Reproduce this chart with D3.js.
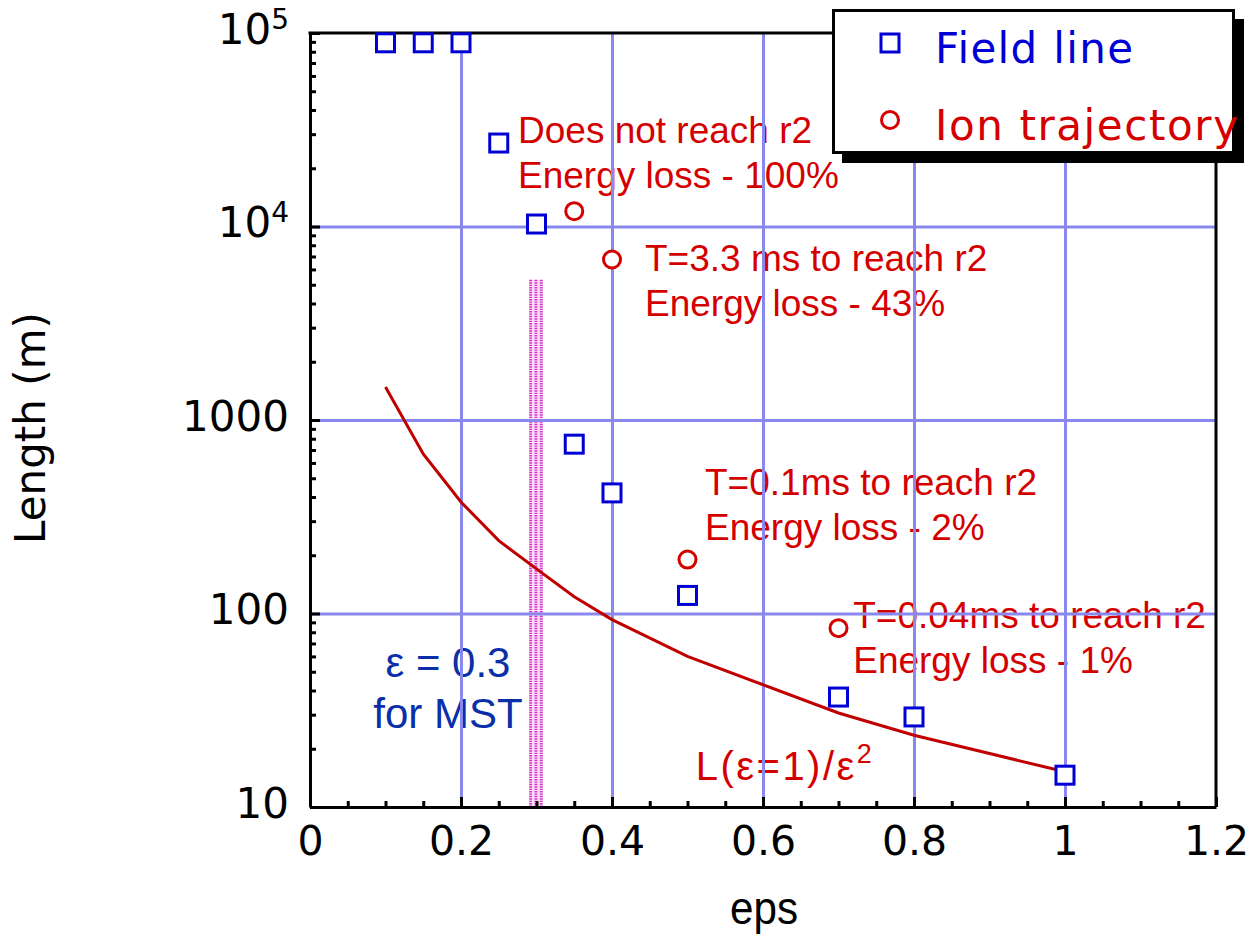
<!DOCTYPE html>
<html><head><meta charset="utf-8">
<script src="https://cdn.jsdelivr.net/npm/d3@7"></script>
<style>body{margin:0;background:#fff} svg{display:block}</style>
</head><body><svg id="c" width="1249" height="939"></svg>
<script>
// ---- data ----
const xTicks = [0, 0.2, 0.4, 0.6, 0.8, 1, 1.2];
const xTickLabels = ["0", "0.2", "0.4", "0.6", "0.8", "1", "1.2"];
const yTicks = [10, 100, 1000, 10000, 100000];
const yTickBase = ["10", "100", "1000", "10", "10"];
const yTickSup = ["", "", "", "4", "5"];
const xMinor = [0.05,0.1,0.15,0.25,0.3,0.35,0.45,0.5,0.55,0.65,0.7,0.75,0.85,0.9,0.95,1.05,1.1,1.15];
const yMinor = [20,30,40,50,60,70,80,90,200,300,400,500,600,700,800,900,2000,3000,4000,5000,6000,7000,8000,9000,20000,30000,40000,50000,60000,70000,80000,90000];

const fieldEps = [0.1, 0.15, 0.2, 0.25, 0.3, 0.35, 0.4, 0.5, 0.7, 0.8, 1.0];
const fieldLen = [89000, 89000, 89000, 27000, 10300, 750, 420, 124, 37, 29.2, 14.6];
const ionEps = [0.35, 0.4, 0.5, 0.7];
const ionLen = [12000, 6750, 190, 84];
const curveEps = [0.1, 0.15, 0.2, 0.25, 0.3, 0.35, 0.4, 0.5, 0.7, 0.8, 1.0];
const curveLen = [1480, 667, 377, 238, 170, 122, 93, 60, 30.6, 23.5, 15.2];
const bandEps = [0.29, 0.3085];
const bandTop = 5300;

const legendLabels = ["Field line", "Ion trajectory"];
const noteLines = [
  ["Does not reach r2", "Energy loss - 100%"],
  ["T=3.3 ms to reach r2", "Energy loss - 43%"],
  ["T=0.1ms to reach r2", "Energy loss - 2%"],
  ["T=0.04ms to reach r2", "Energy loss - 1%"]
];
const noteEps = [0.2755, 0.4437, 0.5232, 0.7195];
const noteLen = [27000, 5890, 409, 84];

// ---- layout ----
const L = 310, R = 1216, T = 33, B = 807;
const svg = d3.select("#c");
const x = d3.scaleLinear().domain([0, 1.2]).range([L, R]);
const y = d3.scaleLog().domain([10, 100000]).range([B, T]);

const RED = "#d40000", BLUE = "#0000d4", GRID = "#8888ee";
const sans = "'Liberation Sans', Arial, sans-serif";
const deja = "'DejaVu Sans', sans-serif";

// pink band
const band = svg.append("g");
band.append("rect").attr("x", x(bandEps[0])).attr("width", x(bandEps[1]) - x(bandEps[0]))
  .attr("y", y(bandTop)).attr("height", y(10) - y(bandTop)).attr("fill", "#fbe2f6");
const bw = x(bandEps[1]) - x(bandEps[0]);
[0.12, 0.5, 0.88].forEach(f => {
  band.append("line").attr("x1", x(bandEps[0]) + f * bw).attr("x2", x(bandEps[0]) + f * bw)
    .attr("y1", y(bandTop)).attr("y2", y(10))
    .attr("stroke", "#d636c8").attr("stroke-width", 3).attr("stroke-dasharray", "1.4 1");
});

// annotations (under the grid)
const notes = svg.append("g").attr("font-family", sans).attr("font-size", 37).attr("fill", RED);
noteLines.forEach((lines, i) => {
  lines.forEach((t, j) => {
    notes.append("text").attr("x", x(noteEps[i])).attr("y", y(noteLen[i]) + j * 45).text(t);
  });
});
// L(eps=1)/eps^2
const lt = notes.append("text").attr("x", x(0.511)).attr("y", 780).attr("font-size", 40)
  .attr("textLength", 176).attr("lengthAdjust", "spacing");
lt.append("tspan").text("L(ε=1)/ε");
lt.append("tspan").attr("font-size", 27).attr("dy", -17).text("2");
// eps = 0.3 for MST
const mst = svg.append("g").attr("font-family", sans).attr("font-size", 42).attr("fill", "#0a2fa8").attr("text-anchor", "middle");
mst.append("text").attr("x", 448).attr("y", 677).text("ε = 0.3");
mst.append("text").attr("x", 448).attr("y", 728).text("for MST");

// grid
const gx = svg.append("g").attr("transform", `translate(0,${B})`)
  .call(d3.axisBottom(x).tickValues(xTicks.slice(1, -1)).tickSize(-(B - T)).tickFormat(""));
gx.select(".domain").remove();
gx.selectAll("line").attr("stroke", GRID).attr("stroke-width", 3);
const gy = svg.append("g").attr("transform", `translate(${L},0)`)
  .call(d3.axisLeft(y).tickValues(yTicks.slice(1, -1)).tickSize(-(R - L)).tickFormat(""));
gy.select(".domain").remove();
gy.selectAll("line").attr("stroke", GRID).attr("stroke-width", 3);

// minor ticks
const mx = svg.append("g").attr("transform", `translate(0,${B})`)
  .call(d3.axisBottom(x).tickValues(xMinor).tickSize(-6).tickFormat(""));
mx.select(".domain").remove();
mx.selectAll("line").attr("stroke", "#000").attr("stroke-width", 3);
const my = svg.append("g").attr("transform", `translate(${L},0)`)
  .call(d3.axisLeft(y).tickValues(yMinor).tickSize(-6).tickFormat(""));
my.select(".domain").remove();
my.selectAll("line").attr("stroke", "#000").attr("stroke-width", 3);

// major axes
const ax = svg.append("g").attr("transform", `translate(0,${B})`)
  .call(d3.axisBottom(x).tickValues(xTicks).tickSizeInner(-10).tickSizeOuter(0).tickPadding(19)
    .tickFormat((d, i) => xTickLabels[i]));
ax.select(".domain").attr("stroke", "#000").attr("stroke-width", 3);
ax.selectAll("line").attr("stroke", "#000").attr("stroke-width", 3);
ax.selectAll("text").attr("font-family", deja).attr("font-size", 41).attr("fill", "#000");

const ay = svg.append("g").attr("transform", `translate(${L},0)`)
  .call(d3.axisLeft(y).tickValues(yTicks).tickSizeInner(-10).tickSizeOuter(0).tickPadding(21)
    .tickFormat((d, i) => yTickBase[i]));
ay.select(".domain").attr("stroke", "#000").attr("stroke-width", 3);
ay.selectAll("line").attr("stroke", "#000").attr("stroke-width", 3);
ay.selectAll("text").attr("font-family", deja).attr("font-size", 42).attr("fill", "#000")
  .attr("dy", "0.24em")
  .each(function(d, i) {
    if (yTickSup[i]) {
      const t = d3.select(this);
      t.text("");
      t.append("tspan").text(yTickBase[i]);
      t.append("tspan").attr("font-size", 28).attr("dy", -15).text(yTickSup[i]);
    }
  });

// top and right frame
svg.append("line").attr("x1", L - 1.5).attr("x2", R + 1.5).attr("y1", T).attr("y2", T).attr("stroke", "#000").attr("stroke-width", 3);
svg.append("line").attr("x1", R).attr("x2", R).attr("y1", T).attr("y2", B).attr("stroke", "#000").attr("stroke-width", 3);

// curve
svg.append("path").datum(curveEps.map((e, i) => [e, curveLen[i]]))
  .attr("d", d3.line().x(d => x(d[0])).y(d => y(d[1])))
  .attr("fill", "none").attr("stroke", "#c00000").attr("stroke-width", 3);

// markers
const S = 18;
svg.append("g").selectAll("rect").data(fieldEps.map((e, i) => [e, fieldLen[i]])).join("rect")
  .attr("x", d => x(d[0]) - S / 2).attr("y", d => y(d[1]) - S / 2).attr("width", S).attr("height", S)
  .attr("fill", "#fff").attr("stroke", BLUE).attr("stroke-width", 3);
svg.append("g").selectAll("circle").data(ionEps.map((e, i) => [e, ionLen[i]])).join("circle")
  .attr("cx", d => x(d[0])).attr("cy", d => y(d[1])).attr("r", 8.5)
  .attr("fill", "#fff").attr("stroke", RED).attr("stroke-width", 3);

// axis titles
svg.append("text").attr("transform", "translate(45,428) rotate(-90)").attr("text-anchor", "middle")
  .attr("font-family", deja).attr("font-size", 42).attr("fill", "#000").text("Length (m)");
svg.append("text").attr("x", 764).attr("y", 924).attr("text-anchor", "middle")
  .attr("font-family", sans).attr("font-size", 46).attr("textLength", 68).attr("lengthAdjust", "spacingAndGlyphs")
  .attr("fill", "#000").text("eps");

// legend
const lg = svg.append("g");
lg.append("rect").attr("x", 842).attr("y", 19).attr("width", 402).attr("height", 144).attr("fill", "#000");
lg.append("rect").attr("x", 833.5).attr("y", 10.5).attr("width", 400).attr("height", 142).attr("fill", "#fff")
  .attr("stroke", "#000").attr("stroke-width", 3);
lg.append("rect").attr("x", 890 - 9).attr("y", 43 - 9).attr("width", 18).attr("height", 18)
  .attr("fill", "#fff").attr("stroke", BLUE).attr("stroke-width", 3);
lg.append("circle").attr("cx", 890).attr("cy", 120).attr("r", 8.5)
  .attr("fill", "#fff").attr("stroke", RED).attr("stroke-width", 3);
lg.append("text").attr("x", 935).attr("y", 63).attr("font-family", deja).attr("font-size", 42)
  .attr("fill", BLUE).attr("textLength", 198).attr("lengthAdjust", "spacing").text(legendLabels[0]);
lg.append("text").attr("x", 935).attr("y", 140).attr("font-family", deja).attr("font-size", 42)
  .attr("fill", RED).attr("textLength", 303).attr("lengthAdjust", "spacing").text(legendLabels[1]);
</script></body></html>
